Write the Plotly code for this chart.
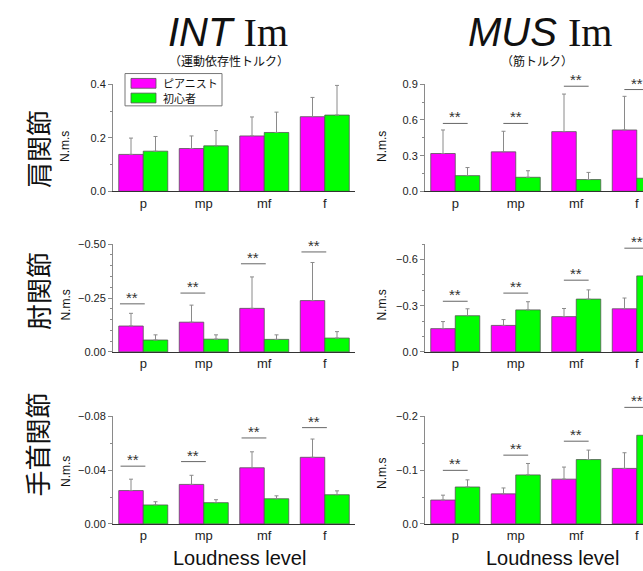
import plotly.graph_objects as go

W, H = 643, 571

categories = ["p", "mp", "mf", "f"]
pianist_name = "ピアニスト"
novice_name = "初心者"

# INT Im (shoulder)
int_shoulder_pianist = [0.138, 0.160, 0.207, 0.279]
int_shoulder_pianist_err = [0.061, 0.047, 0.071, 0.072]
int_shoulder_novice = [0.150, 0.170, 0.220, 0.285]
int_shoulder_novice_err = [0.055, 0.057, 0.076, 0.111]
int_shoulder_sig = [None, None, None, None]

# MUS Im (shoulder)
mus_shoulder_pianist = [0.318, 0.332, 0.502, 0.516]
mus_shoulder_pianist_err = [0.198, 0.173, 0.316, 0.283]
mus_shoulder_novice = [0.132, 0.118, 0.099, 0.110]
mus_shoulder_novice_err = [0.068, 0.055, 0.060, 0.050]
mus_shoulder_sig = [0.571, 0.571, 0.884, 0.856]

# INT Im (elbow)
int_elbow_pianist = [-0.120, -0.138, -0.202, -0.238]
int_elbow_pianist_err = [0.059, 0.079, 0.146, 0.177]
int_elbow_novice = [-0.055, -0.059, -0.058, -0.064]
int_elbow_novice_err = [0.024, 0.020, 0.021, 0.030]
int_elbow_sig = [-0.223, -0.273, -0.409, -0.464]

# MUS Im (elbow)
mus_elbow_pianist = [-0.151, -0.172, -0.229, -0.280]
mus_elbow_pianist_err = [0.046, 0.038, 0.053, 0.070]
mus_elbow_novice = [-0.235, -0.273, -0.343, -0.494]
mus_elbow_novice_err = [0.045, 0.053, 0.060, 0.080]
mus_elbow_sig = [-0.329, -0.382, -0.466, -0.674]

# INT Im (wrist)
int_wrist_pianist = [-0.0248, -0.0294, -0.0418, -0.0496]
int_wrist_pianist_err = [0.0085, 0.0068, 0.0119, 0.0136]
int_wrist_novice = [-0.0141, -0.0158, -0.0187, -0.0217]
int_wrist_novice_err = [0.0024, 0.0022, 0.0022, 0.0029]
int_wrist_sig = [-0.0430, -0.0464, -0.0640, -0.0717]

# MUS Im (wrist)
mus_wrist_pianist = [-0.0444, -0.0559, -0.0833, -0.1033]
mus_wrist_pianist_err = [0.0091, 0.0110, 0.0225, 0.0292]
mus_wrist_novice = [-0.0687, -0.0912, -0.1198, -0.1650]
mus_wrist_novice_err = [0.0133, 0.0213, 0.0176, 0.0250]
mus_wrist_sig = [-0.0997, -0.1280, -0.1540, -0.2170]

row_labels = ["肩関節", "肘関節", "手首関節"]
y_unit = "N.m.s"
x_title = "Loudness level"

FONT = "Liberation Sans, Arial, Noto Sans CJK JP, sans-serif"
CJK = "Noto Sans CJK JP, Liberation Sans, sans-serif"
MAGENTA = "#FF00FF"
GREEN = "#00FF00"


def px(x):
    return x / W


def py(y):
    return 1 - y / H


# layout geometry (pixels)
col_x = [(113, 355), (425, 643)]
unit = (355 - 113) / 4.0
row_y = [(80, 189.3), (243.3, 353.3), (419.3, 529)]

panels = [
    dict(row=0, col=0, p=int_shoulder_pianist, pe=int_shoulder_pianist_err,
         n=int_shoulder_novice, ne=int_shoulder_novice_err, sig=int_shoulder_sig,
         yr=[0, 0.4], dt=0.2, mdt=0.1, fmt=".1f", sx=-0.18),
    dict(row=0, col=1, p=mus_shoulder_pianist, pe=mus_shoulder_pianist_err,
         n=mus_shoulder_novice, ne=mus_shoulder_novice_err, sig=mus_shoulder_sig,
         yr=[0, 0.9], dt=0.3, mdt=0.15, fmt=".1f", sx=0.0),
    dict(row=1, col=0, p=int_elbow_pianist, pe=int_elbow_pianist_err,
         n=int_elbow_novice, ne=int_elbow_novice_err, sig=int_elbow_sig,
         yr=[0, -0.5], dt=0.25, mdt=0.05, fmt=".2f", sx=-0.18),
    dict(row=1, col=1, p=mus_elbow_pianist, pe=mus_elbow_pianist_err,
         n=mus_elbow_novice, ne=mus_elbow_novice_err, sig=mus_elbow_sig,
         yr=[0, -0.7], dt=0.3, mdt=0.1, fmt=".1f", sx=0.0),
    dict(row=2, col=0, p=int_wrist_pianist, pe=int_wrist_pianist_err,
         n=int_wrist_novice, ne=int_wrist_novice_err, sig=int_wrist_sig,
         yr=[0, -0.08], dt=0.04, mdt=0.02, fmt=".2f", sx=-0.17),
    dict(row=2, col=1, p=mus_wrist_pianist, pe=mus_wrist_pianist_err,
         n=mus_wrist_novice, ne=mus_wrist_novice_err, sig=mus_wrist_sig,
         yr=[0, -0.2], dt=0.1, mdt=0.05, fmt=".1f", sx=0.0),
]


def err_dict(vals, errs):
    plus = [e if v >= 0 else 0 for v, e in zip(vals, errs)]
    minus = [e if v < 0 else 0 for v, e in zip(vals, errs)]
    return dict(type="data", symmetric=False, array=plus, arrayminus=minus,
                color="#8a8a8a", thickness=1, width=2)


fig = go.Figure()
shapes = []
annotations = []

for i, pn in enumerate(panels, start=1):
    xa, ya = f"x{i}", f"y{i}"
    for name, vals, errs, color in [(pianist_name, pn["p"], pn["pe"], MAGENTA),
                                     (novice_name, pn["n"], pn["ne"], GREEN)]:
        fig.add_trace(go.Bar(
            x=categories, y=vals, name=name, showlegend=False,
            marker=dict(color=color, line=dict(color="#555555", width=0.8)),
            error_y=err_dict(vals, errs), xaxis=xa, yaxis=ya))

    x0, x1 = col_x[pn["col"]]
    y0, y1 = row_y[pn["row"]]
    span = (x1 - x0) / unit
    ax_suffix = "" if i == 1 else str(i)
    fig.layout["xaxis" + ax_suffix] = dict(
        domain=[px(x0), min(1.0, px(x1))], anchor=ya, range=[-0.5, -0.5 + span],
        type="category", showline=True, linecolor="#333333", linewidth=1,
        ticks="", tickfont=dict(family=FONT, size=13, color="#222222"),
        showgrid=False, zeroline=False, fixedrange=True)
    fig.layout["yaxis" + ax_suffix] = dict(
        domain=[py(y1), py(y0)], anchor=xa, range=pn["yr"],
        tick0=0, dtick=pn["dt"], tickformat=pn["fmt"],
        showline=True, linecolor="#8a8a8a", linewidth=1,
        ticks="outside", ticklen=4, tickcolor="#8a8a8a", tickwidth=1,
        minor=dict(dtick=pn["mdt"], tick0=0, ticks="outside", ticklen=2,
                   tickcolor="#8a8a8a"),
        tickfont=dict(family=FONT, size=11, color="#222222"),
        showgrid=False, zeroline=False, fixedrange=True)

    # significance brackets
    top = pn["yr"][1]
    for j, s in enumerate(pn["sig"]):
        if s is None:
            continue
        frac = s / top
        cx = j + pn["sx"]
        shapes.append(dict(type="line", xref=xa, yref=f"{ya} domain",
                           x0=cx - 0.205, x1=cx + 0.205, y0=frac, y1=frac,
                           line=dict(color="#666666", width=1)))
        annotations.append(dict(text="**", xref=xa, yref=f"{ya} domain",
                                x=cx, y=frac, yanchor="bottom", xanchor="center",
                                yshift=-4, showarrow=False,
                                font=dict(family=FONT, size=15, color="#333333")))

# column titles
titles = [
    ('<span style="font-family:Liberation Sans;font-style:italic">INT</span>'
     ' <span style="font-family:Liberation Serif">Im</span>', 228, "（運動依存性トルク）", 229),
    ('<span style="font-family:Liberation Sans;font-style:italic">MUS</span>'
     ' <span style="font-family:Liberation Serif">Im</span>', 540, "（筋トルク）", 537),
]
for t, tx, sub, sx in titles:
    annotations.append(dict(text=t, x=px(tx), y=py(27.5), xref="paper", yref="paper",
                            xanchor="center", yanchor="middle", showarrow=False,
                            font=dict(family=FONT, size=40, color="#111111")))
    annotations.append(dict(text=sub, x=px(sx), y=py(56), xref="paper", yref="paper",
                            xanchor="center", yanchor="middle", showarrow=False,
                            font=dict(family=CJK, size=12, color="#111111")))

# row labels
row_label_pos = [(38, 146), (38, 291), (37, 448)]
for lab, (lx, ly) in zip(row_labels, row_label_pos):
    annotations.append(dict(text=lab, x=px(lx), y=py(ly), xref="paper", yref="paper",
                            xanchor="center", yanchor="middle", textangle=-90,
                            showarrow=False,
                            font=dict(family=CJK, size=26, color="#111111")))

# y unit labels
unit_pos = [(65, 144), (382, 144), (66, 306), (382, 306), (66, 476), (382, 478)]
for ux, uy in unit_pos:
    annotations.append(dict(text=y_unit, x=px(ux), y=py(uy), xref="paper", yref="paper",
                            xanchor="center", yanchor="middle", textangle=-90,
                            showarrow=False,
                            font=dict(family=FONT, size=12, color="#111111")))

# x titles
for xt in [239.5, 552.5]:
    annotations.append(dict(text=x_title, x=px(xt), y=py(564), xref="paper", yref="paper",
                            xanchor="center", yanchor="middle", showarrow=False,
                            font=dict(family=FONT, size=20, color="#111111")))

# legend (drawn in top-left panel)
shapes.append(dict(type="rect", xref="paper", yref="paper",
                   x0=px(125), x1=px(222), y0=py(102), y1=py(69),
                   line=dict(color="#777777", width=1), fillcolor="white"))
for name, color, yy in [(pianist_name, MAGENTA, 79), (novice_name, GREEN, 94)]:
    shapes.append(dict(type="rect", xref="paper", yref="paper",
                       x0=px(131), x1=px(156), y0=py(yy + 5), y1=py(yy - 5),
                       line=dict(color="#555555", width=0.8), fillcolor=color))
    annotations.append(dict(text=name, x=px(161), y=py(yy), xref="paper", yref="paper",
                            xanchor="left", yanchor="middle", showarrow=False,
                            font=dict(family=CJK, size=11, color="#111111")))

fig.update_layout(
    width=W, height=H, margin=dict(l=0, r=0, t=0, b=0),
    paper_bgcolor="white", plot_bgcolor="white",
    barmode="group", bargap=0.19, bargroupgap=0,
    showlegend=False, shapes=shapes, annotations=annotations,
    font=dict(family=FONT, color="#222222"),
)

page_fix = (
    "var s=document.createElement('style');"
    "s.textContent='html,body{margin:0;padding:0;overflow:hidden;}';"
    "document.head.appendChild(s);"
    "var d=document.getElementById('{plot_id}');"
    "d.style.position='fixed';d.style.top='0px';d.style.left='0px';"
)

fig.write_html("out.html", config={"displayModeBar": False}, post_script=page_fix)
